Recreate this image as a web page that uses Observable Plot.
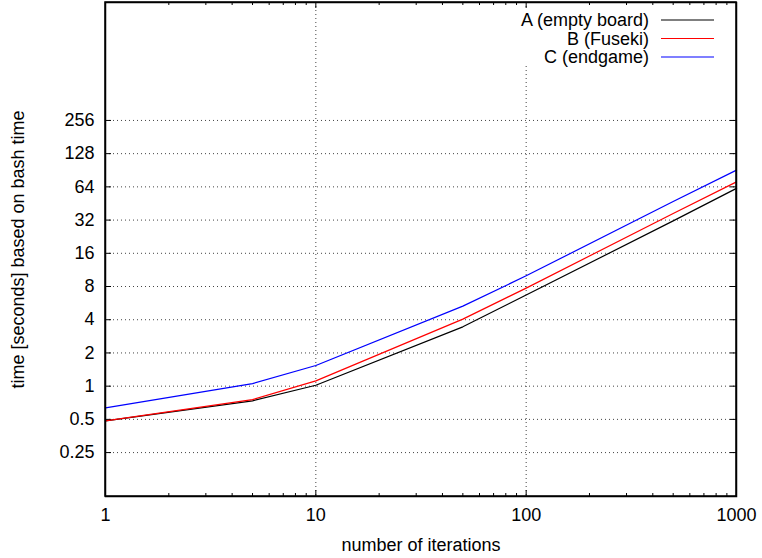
<!DOCTYPE html>
<html>
<head>
<meta charset="utf-8">
<script src="https://cdn.jsdelivr.net/npm/d3@7"></script>
<script src="https://cdn.jsdelivr.net/npm/@observablehq/plot@0.6"></script>
<style>
  html, body { margin: 0; padding: 0; background: #fff; }
  #chart { position: relative; width: 762px; height: 558px; }
</style>
</head>
<body>
<div id="chart"></div>
<script>
const iterations = [1, 5, 10, 50, 100, 500, 1000];
const seriesNames = ["A (empty board)", "B (Fuseki)", "C (endgame)"];
const seriesColors = ["#000000", "#ff0000", "#0000ff"];
const timeA = [0.485, 0.736, 1.02, 3.45, 6.69, 31.5, 62];
const timeB = [0.485, 0.756, 1.117, 4.05, 7.74, 36.7, 71];
const timeC = [0.636, 1.055, 1.54, 5.31, 10.0, 47.2, 90.7];
const yTicks = [0.25, 0.5, 1, 2, 4, 8, 16, 32, 64, 128, 256];
const xTicks = [1, 10, 100, 1000];
const xGrid = [10, 100];
const xMinor = [2,3,4,5,6,7,8,9,20,30,40,50,60,70,80,90,200,300,400,500,600,700,800,900];
const xLabel = "number of iterations";
const yLabel = "time [seconds] based on bash time";

const allSeries = [timeA, timeB, timeC];
const rows = [];
allSeries.forEach((vals, si) => {
  vals.forEach((v, i) => rows.push({series: seriesNames[si], x: iterations[i], y: v}));
});

const FONT = "'Liberation Sans', Arial, sans-serif";
const FS = 18;
const W = 762, H = 558;
const mL = 105, mR = 26, mT = 2, mB = 62;
const pw = W - mL - mR, ph = H - mT - mB;

const plot = Plot.plot({
  width: W, height: H,
  marginLeft: mL, marginRight: mR, marginTop: mT, marginBottom: mB,
  style: {fontFamily: FONT, fontSize: FS + "px", color: "#000", background: "#fff"},
  x: {type: "log", domain: [1, 1000], axis: null},
  y: {type: "log", domain: [0.1, 3000], axis: null},
  color: {domain: seriesNames, range: seriesColors},
  marks: [
    // grid
    Plot.ruleY(yTicks, {y: d => d, stroke: "#444", strokeWidth: 1, strokeDasharray: "1,3"}),
    Plot.ruleX(xGrid, {x: d => d, stroke: "#444", strokeWidth: 1, strokeDasharray: "1,3"}),
    // ticks inward
    Plot.ruleX(xTicks, {x: d => d, insetTop: ph - 6, stroke: "#000"}),
    Plot.ruleX(xTicks, {x: d => d, insetBottom: ph - 6, stroke: "#000"}),
    Plot.ruleX(xMinor, {x: d => d, insetTop: ph - 3, stroke: "#000"}),
    Plot.ruleX(xMinor, {x: d => d, insetBottom: ph - 3, stroke: "#000"}),
    Plot.ruleY(yTicks, {y: d => d, insetRight: pw - 6, stroke: "#000"}),
    Plot.ruleY(yTicks, {y: d => d, insetLeft: pw - 6, stroke: "#000"}),
    // tick labels
    Plot.text(xTicks, {x: d => d, text: d => String(d), frameAnchor: "bottom", dy: 19,
      lineAnchor: "middle", textAnchor: "middle", fontSize: FS, fill: "#000"}),
    Plot.text(yTicks, {y: d => d, text: d => String(d), frameAnchor: "left", dx: -11,
      lineAnchor: "middle", textAnchor: "end", fontSize: FS, fill: "#000"}),
    // axis titles
    Plot.text([xLabel], {text: d => d, frameAnchor: "bottom", dy: 49, lineAnchor: "middle",
      fontSize: FS, fill: "#000"}),
    Plot.text([yLabel], {text: d => d, frameAnchor: "left", dx: -87, rotate: -90,
      lineAnchor: "middle", textAnchor: "middle", fontSize: FS, fill: "#000"}),
    // data
    Plot.line(rows, {x: "x", y: "y", z: "series", stroke: "series", strokeWidth: 1.2}),
    Plot.frame({stroke: "#000", strokeWidth: 1.5})
  ]
});

const svg = d3.select(plot);
// legend (key box blanks the grid behind it)
const key = svg.append("g");
key.append("rect").attr("x", 500).attr("y", 8).attr("width", 230).attr("height", 58).attr("fill", "#fff");
seriesNames.forEach((name, i) => {
  const y = 20 + i * 18.5;
  key.append("text").attr("x", 649).attr("y", y).attr("dy", "0.35em")
    .attr("text-anchor", "end").attr("fill", "#000")
    .style("font-family", FONT).style("font-size", FS + "px")
    .text(name);
  key.append("line").attr("x1", 661).attr("x2", 714).attr("y1", y).attr("y2", y)
    .attr("stroke", seriesColors[i]).attr("stroke-width", 1.2);
});
svg.append("rect").attr("x", mL).attr("y", mT).attr("width", pw).attr("height", ph)
  .attr("fill", "none").attr("stroke", "#000").attr("stroke-width", 1.5);

document.getElementById("chart").appendChild(plot);
</script>
</body>
</html>
